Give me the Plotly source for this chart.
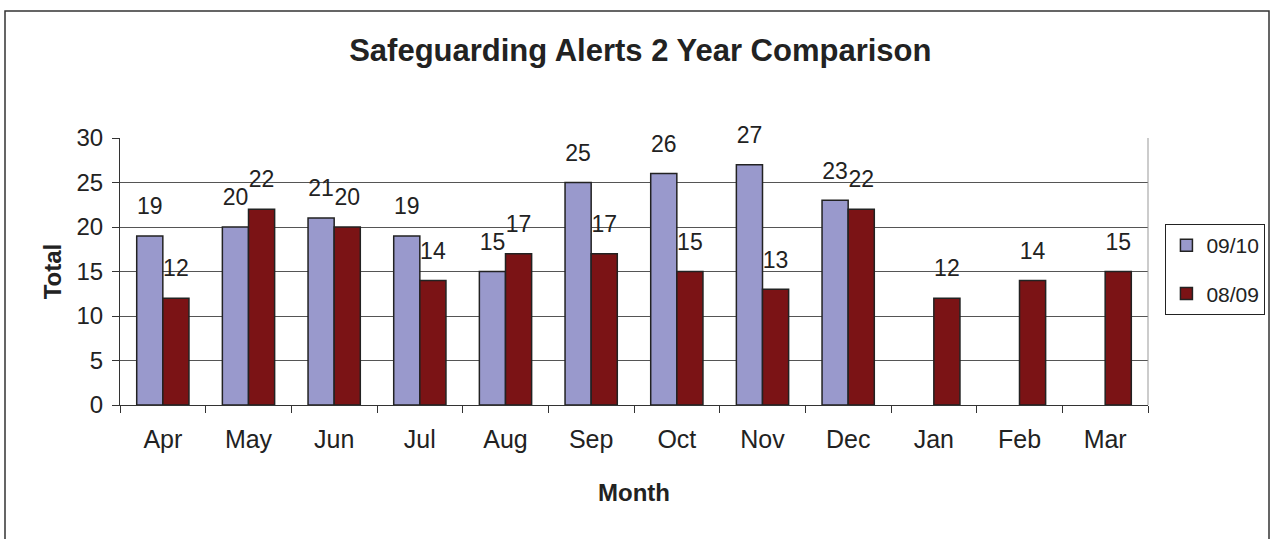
import plotly.graph_objects as go

months = ["Apr", "May", "Jun", "Jul", "Aug", "Sep", "Oct", "Nov", "Dec", "Jan", "Feb", "Mar"]
y0910 = [19, 20, 21, 19, 15, 25, 26, 27, 23, None, None, None]
y0809 = [12, 22, 20, 14, 17, 17, 15, 13, 22, 12, 14, 15]

FONT = "Liberation Sans, Arial, sans-serif"
INK = "#222222"

fig = go.Figure()
series = [("09/10", y0910, "#9999CC", "a"), ("08/09", y0809, "#7B1315", "b")]
for name, vals, color, grp in series:
    fig.add_trace(go.Bar(
        name=name, x=months, y=vals, legendgroup=grp, offsetgroup=grp,
        marker=dict(color=color, line=dict(color=INK, width=1.5)),
    ))
for name, vals, color, grp in series:
    fig.add_trace(go.Scatter(
        x=months, y=vals, offsetgroup=grp, legendgroup=grp, showlegend=False,
        mode="markers+text", text=[("" if v is None else str(v)) for v in vals],
        textposition="top center", cliponaxis=False, hoverinfo="skip",
        marker=dict(size=24, opacity=0),
        textfont=dict(size=23, color=INK, family=FONT),
    ))

fig.update_layout(
    width=1273, height=539,
    margin=dict(l=120, r=125, t=138, b=134, autoexpand=False),
    paper_bgcolor="white", plot_bgcolor="white",
    barmode="group", bargap=0.39, bargroupgap=0,
    scattermode="group", scattergap=0.39,
    font=dict(family=FONT, color=INK),
    title=dict(text="<b>Safeguarding Alerts 2 Year Comparison</b>",
               x=0.503, xanchor="center", y=0.907, yanchor="middle",
               font=dict(size=31, family=FONT, color=INK)),
    legend=dict(xref="container", yref="container", x=0.9155, xanchor="left",
                y=0.5, yanchor="middle",
                bordercolor=INK, borderwidth=1, itemwidth=30,
                font=dict(size=21, family=FONT, color=INK),
                traceorder="grouped", tracegroupgap=18),
    showlegend=True,
)
fig.update_yaxes(
    range=[0, 30], dtick=5, showgrid=True, gridcolor="#555555", gridwidth=1,
    ticks="outside", ticklen=7, tickcolor="#333333", ticklabelstandoff=4,
    showline=True, linecolor="#333333", linewidth=1,
    tickfont=dict(size=24, family=FONT, color=INK),
    title=dict(text="<b>Total</b>", font=dict(size=24, family=FONT, color=INK), standoff=8),
    zeroline=False,
)
fig.update_xaxes(
    tickson="boundaries", ticks="outside", ticklen=7, tickcolor="#333333",
    ticklabelstandoff=12,
    showline=True, linecolor="#333333", linewidth=1,
    tickfont=dict(size=25, family=FONT, color=INK),
    title=dict(text="<b>Month</b>", font=dict(size=24, family=FONT, color=INK), standoff=32),
    showgrid=False,
)
# plot-area right border
fig.add_shape(type="line", xref="paper", yref="paper", x0=1, x1=1, y0=0, y1=1,
              line=dict(color="#999999", width=1))
# outer chart frame
fig.add_shape(type="rect", xref="paper", yref="paper",
              x0=(5 - 120) / 1028, x1=(1269 - 120) / 1028,
              y0=-0.6, y1=(405 - 11) / 267,
              line=dict(color="#333333", width=1.5))

fig.write_html("out.html", config={"displayModeBar": False},
               post_script="document.body.style.margin='0';")
